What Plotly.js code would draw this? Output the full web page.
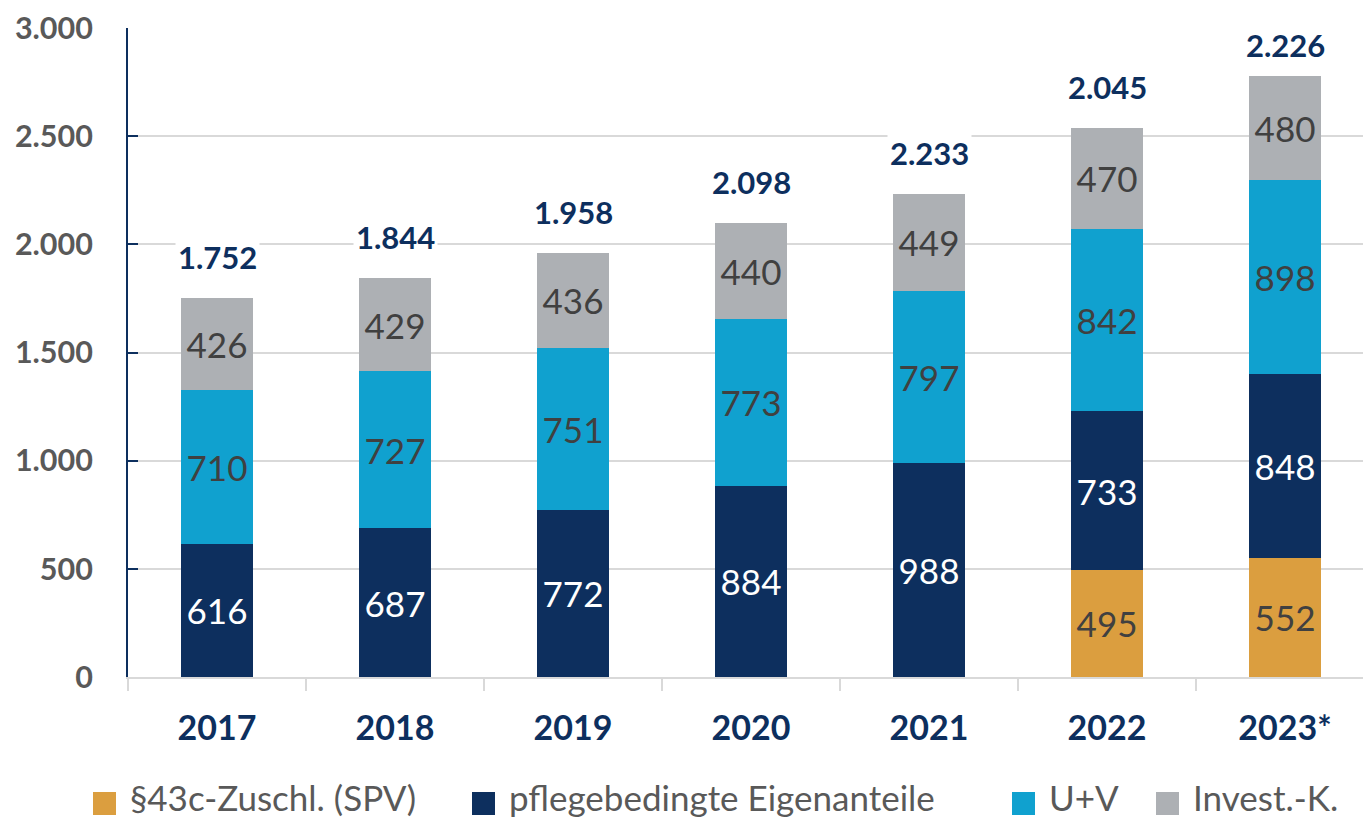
<!DOCTYPE html>
<html><head><meta charset="utf-8">
<script src="https://cdn.plot.ly/plotly-3.0.1.min.js"></script>
<style>html,body{margin:0;padding:0;background:#fff}#chart{width:1363px;height:819px}</style>
</head><body><div id="chart"></div>
<script>
const years = ["2017","2018","2019","2020","2021","2022","2023*"];
const spv = [null,null,null,null,null,495,552];
const pflege = [616,687,772,884,988,733,848];
const uv = [710,727,751,773,797,842,898];
const invest = [426,429,436,440,449,470,480];
const totals = [1752,1844,1958,2098,2233,2045,2226];
const seriesNames = ["§43c-Zuschl. (SPV)","pflegebedingte Eigenanteile","U+V","Invest.-K."];
const yTicks = [0,500,1000,1500,2000,2500,3000];

const colors = ["#DB9E3F","#0D2F5E","#10A1CF","#ADB0B4"];
const txtColors = ["#404040","#FFFFFF","#404040","#404040"];
const FONT = "Lato, 'Open Sans', sans-serif";
const series = [spv,pflege,uv,invest];
const data = series.map((vals,i)=>({
  type:"bar", x:years, y:vals, name:seriesNames[i],
  marker:{color:colors[i], line:{width:0}},
  width:0.4, showlegend:false,
  text:vals.map(v=>v==null?"":String(v)),
  textposition:"inside", insidetextanchor:"middle", constraintext:"none",
  textfont:{family:FONT, size:35, color:txtColors[i]},
  hoverinfo:"skip"
}));

function fmt(n){ return String(n).replace(/\B(?=(\d{3})+(?!\d))/g, "."); }
const L = 128, T = 28, W = 1235, H = 649, yMax = 3000;
const annotations = years.map((yr,i)=>{
  const top = series.reduce((s,a)=>s+(a[i]||0),0);
  const px = T + H*(1-top/yMax);
  const shift = Math.min(41, px - 45);
  return {x:i, y:top, xref:"x", yref:"y", yanchor:"middle", yshift:shift,
    text:"<b>"+fmt(totals[i])+"</b>", showarrow:false,
    bgcolor:"#FFFFFF", borderpad:2,
    font:{family:FONT, size:31, color:"#0D2F5E"}};
});

// custom legend (pixel placement converted to paper coords)
const px2x = p => (p - L)/W;
const px2y = p => (T + H - p)/H;
const legSquareLeft = [93, 472, 1012, 1156];
const legSize = 23, legTop = 792, legTextGap = 13, legMid = 797;
const shapes = [];
seriesNames.forEach((nm,i)=>{
  shapes.push({type:"rect", xref:"paper", yref:"paper",
    x0:px2x(legSquareLeft[i]), x1:px2x(legSquareLeft[i]+legSize),
    y0:px2y(legTop+legSize), y1:px2y(legTop),
    fillcolor:colors[i], line:{width:0}});
  annotations.push({xref:"paper", yref:"paper", x:px2x(legSquareLeft[i]+legSize+legTextGap),
    y:px2y(legMid), xanchor:"left", yanchor:"middle", showarrow:false, text:nm,
    borderpad:0,
    font:{family:FONT, size:35, color:"#595959"}});
});

const layout = {
  width:1363, height:819,
  margin:{l:L, r:0, t:T, b:819-T-H, pad:0, autoexpand:false},
  paper_bgcolor:"#fff", plot_bgcolor:"#fff",
  barmode:"stack", separators:",.",
  showlegend:false,
  xaxis:{type:"category", range:[-0.5, 6.438], showgrid:false,
    showline:true, linecolor:"#D9D9D9", linewidth:2,
    ticks:"outside", tickson:"boundaries", ticklen:12, tickcolor:"#D9D9D9", tickwidth:2,
    ticklabelstandoff:20,
    tickfont:{family:FONT, size:34, color:"#0D2F5E", weight:"bold"}},
  yaxis:{range:[0,3000], tickvals:yTicks, tickformat:",d",
    showgrid:true, gridcolor:"#D9D9D9", gridwidth:2, zeroline:false,
    showline:true, linecolor:"#0D2F5E", linewidth:2,
    ticks:"inside", ticklen:10, tickcolor:"#0D2F5E", tickwidth:2,
    ticklabelstandoff:27,
    tickfont:{family:FONT, size:30.5, color:"#595959", weight:"bold"}},
  annotations:annotations,
  shapes:shapes,
  font:{family:FONT}
};
Plotly.newPlot("chart", data, layout, {displayModeBar:false, staticPlot:true});
</script></body></html>
